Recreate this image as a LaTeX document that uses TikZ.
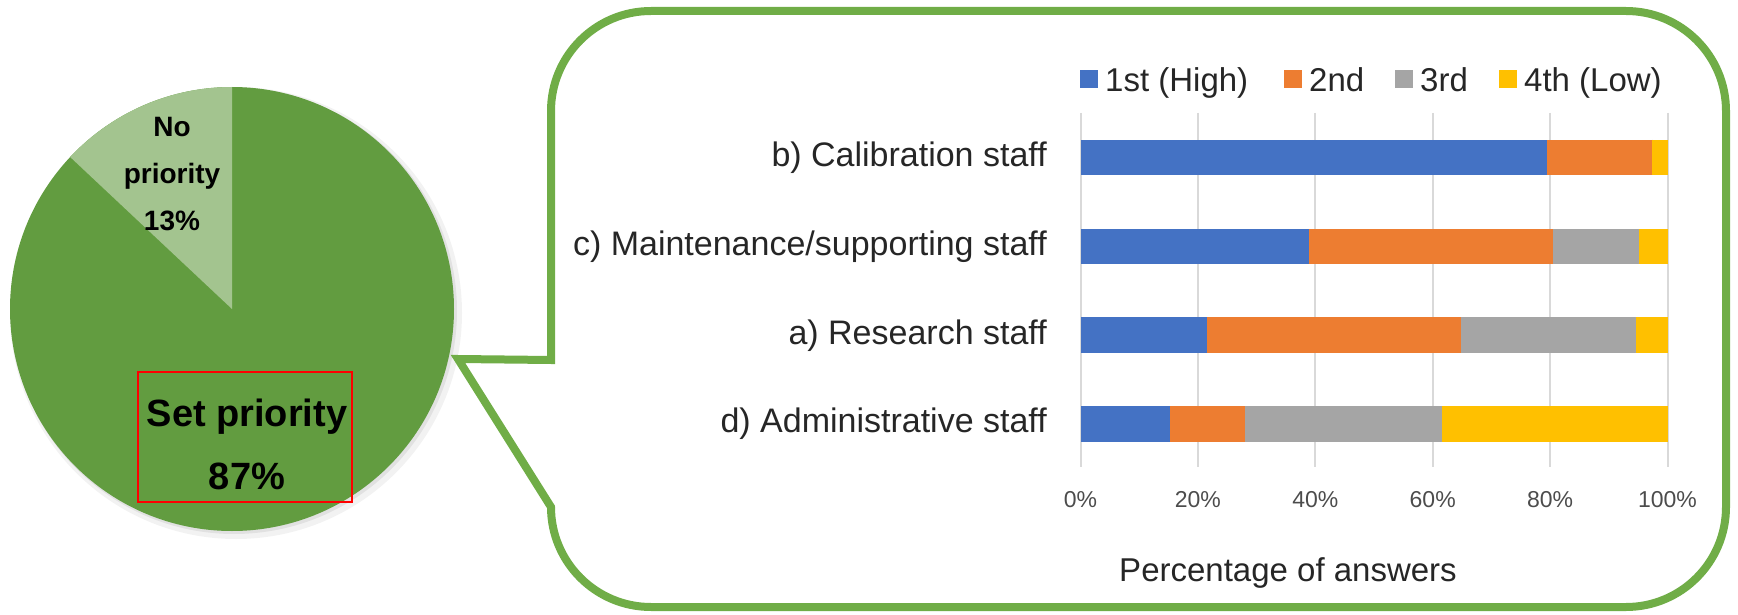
\documentclass[tikz,border=0pt]{standalone}
\usepackage{fontspec}
\setmainfont{Liberation Sans}
\usetikzlibrary{calc}

\definecolor{barblue}{HTML}{4472C4}
\definecolor{barorange}{HTML}{ED7D31}
\definecolor{bargray}{HTML}{A5A5A5}
\definecolor{baryellow}{HTML}{FFC000}
\definecolor{gridgray}{HTML}{D9D9D9}
\definecolor{calgreen}{HTML}{70AD47}
\definecolor{piedark}{HTML}{629C40}
\definecolor{pielight}{HTML}{A3C48F}

\begin{document}
\begin{tikzpicture}[x=1pt,y=-1pt,
  catlabel/.style={inner sep=0pt,text height=24pt,text depth=0pt,text=black!85,font=\fontsize{34}{40}\selectfont},
  ticklabel/.style={inner sep=0pt,text=black!70,font=\fontsize{23}{28}\selectfont},
  pielabel/.style={inner sep=0pt,align=center,text=black}]
  % Constants
  \pgfmathsetmacro\cx{232}
  \pgfmathsetmacro\cy{309}
  \pgfmathsetmacro\r{222}
  \pgfmathsetmacro\xo{1080.5}
  \pgfmathsetmacro\xs{5.87}
  \pgfmathsetmacro\bh{35.5}
  % Boundary
  \path[use as bounding box] (0,0) rectangle (1738,615);
  % Pie
  \fill[black,opacity=0.05] (\cx+4,\cy+4) circle (\r+4);
  \fill[black,opacity=0.07] (\cx+2,\cy+2) circle (\r+1);
  \fill[piedark] (\cx,\cy) circle (\r);
  \fill[pielight] (\cx,\cy) -- ++(-90:\r) arc (-90:-136.8:\r) -- cycle;
  \node[pielabel,font=\bfseries\fontsize{28}{47}\selectfont] (nolabel) at (172,174.5) {No\\priority\\13\%};
  \node[pielabel,font=\bfseries\fontsize{38}{63}\selectfont] (setlabel) at (247,444) {Set priority\\87\%};
  \draw[red,line width=2] (138,372) rectangle (352,502);
  % Callout
  \draw[calgreen,line width=8,line join=miter] (458,359) -- (551,360) -- (551,111) arc (180:270:100)
    -- (1626,11) arc (270:360:100) -- (1726,507) arc (0:90:100) -- (651,607) arc (90:180:100) -- cycle;
  % Grid and ticks
  \foreach \p in {0,20,...,100} {
    \draw[gridgray,line width=2] (\xo+\p*\xs,113) -- (\xo+\p*\xs,467);
    \node[ticklabel] (tick\p) at (\xo+\p*\xs,500) {\p\%};
  }
  % Bars
  \foreach \i/\pa/\pb/\pc/\lab in {0/79.5/97.4/97.4/{b) Calibration staff},
      1/38.95/80.5/95.1/{c) Maintenance/supporting staff},
      2/21.6/64.9/94.6/{a) Research staff},
      3/15.3/28.1/61.5/{d) Administrative staff}} {
    \pgfmathsetmacro\yc{157.5+\i*88.8}
    \fill[barblue] (\xo,\yc-\bh/2) rectangle (\xo+\pa*\xs,\yc+\bh/2);
    \fill[barorange] (\xo+\pa*\xs,\yc-\bh/2) rectangle (\xo+\pb*\xs,\yc+\bh/2);
    \fill[bargray] (\xo+\pb*\xs,\yc-\bh/2) rectangle (\xo+\pc*\xs,\yc+\bh/2);
    \fill[baryellow] (\xo+\pc*\xs,\yc-\bh/2) rectangle (\xo+100*\xs,\yc+\bh/2);
    \node[catlabel,anchor=east] (cat\i) at (1047,\yc-3) {\lab};
  }
  % Legend
  \foreach \col/\sx/\txt [count=\k] in {barblue/1080/{1st (High)}, barorange/1284/{2nd},
      bargray/1395/{3rd}, baryellow/1499/{4th (Low)}} {
    \fill[\col] (\sx,70.5) rectangle ++(18,18);
    \node[catlabel,anchor=west,font=\fontsize{33}{40}\selectfont] (leg\k) at (\sx+25,79.5) {\txt};
  }
  % Axis title
  \node[inner sep=0pt,text=black!85,font=\fontsize{33}{40}\selectfont] (axistitle) at (1288,573) {Percentage of answers};
\end{tikzpicture}
\end{document}
